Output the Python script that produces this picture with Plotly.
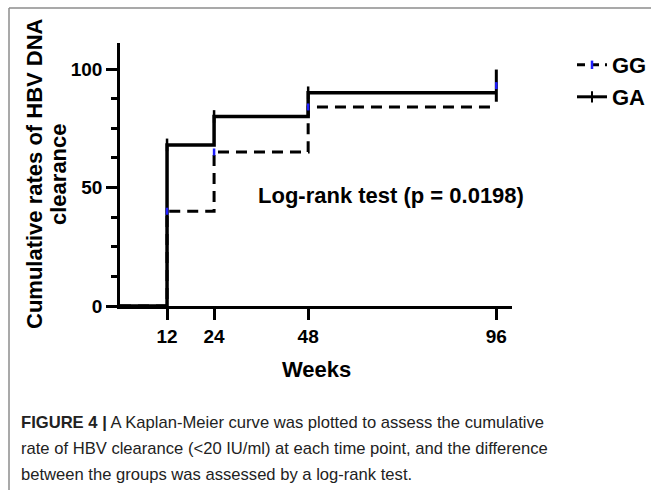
import plotly.graph_objects as go

# ---- data ----
weeks = [0, 12, 24, 48, 96]
gg_rate = [0, 40, 65, 84, 84]
ga_rate = [0, 68, 80, 90, 90]
gg_mark_weeks = [12, 24, 48]
gg_mark_rate = [40, 65, 84]
ga_mark_weeks = [12, 24, 48]
ga_mark_rate = [68, 80, 90]
ga_censor_weeks = [96]
ga_censor_rate = [93]
x_ticks = [12, 24, 48, 96]
y_ticks = [0, 50, 100]
legend_names = ["GG", "GA"]
y_title_lines = ["Cumulative rates of HBV DNA", "clearance"]
x_title = "Weeks"
test_text = "Log-rank test (p = 0.0198)"
caption_lines = [
    "<b>FIGURE 4 |</b> A Kaplan-Meier curve was plotted to assess the cumulative",
    "rate of HBV clearance (&lt;20 IU/ml) at each time point, and the difference",
    "between the groups was assessed by a log-rank test.",
]

# ---- geometry ----
W, H = 651, 490
L, R, T, B = 120, 139, 43, 184
PW = W - L - R
PH = H - T - B


def px_x(px):
    return (px - L) / PW


def px_y(py):
    return (H - B - py) / PH


FONT = "Liberation Sans, Arial, sans-serif"
BLUE = "#1f1fff"

fig = go.Figure()

fig.add_trace(go.Scatter(
    x=weeks, y=gg_rate, mode="lines", line_shape="hv",
    line=dict(color="black", width=3, dash="11px,7px"),
    name=legend_names[0], legend="legend", showlegend=False,
))
fig.add_trace(go.Scatter(
    x=weeks, y=ga_rate, mode="lines", line_shape="hv",
    line=dict(color="black", width=3.5),
    name=legend_names[1], legend="legend2", showlegend=False,
))
fig.add_trace(go.Scatter(
    x=ga_mark_weeks, y=ga_mark_rate, mode="markers",
    marker=dict(symbol="line-ns", size=9, line=dict(color="black", width=2.5)),
    showlegend=False,
))
fig.add_trace(go.Scatter(
    x=ga_censor_weeks, y=ga_censor_rate, mode="markers",
    marker=dict(symbol="line-ns", size=23, line=dict(color="black", width=3)),
    showlegend=False,
))
fig.add_trace(go.Scatter(
    x=gg_mark_weeks, y=gg_mark_rate, mode="markers",
    marker=dict(symbol="line-ns", size=5, line=dict(color=BLUE, width=2.5)),
    showlegend=False,
))
fig.add_trace(go.Scatter(
    x=ga_censor_weeks, y=ga_censor_rate, mode="markers",
    marker=dict(symbol="line-ns", size=5, line=dict(color=BLUE, width=2.5)),
    showlegend=False,
))
# legend entries
fig.add_trace(go.Scatter(
    x=[None], y=[None], mode="lines+markers", name=legend_names[0],
    line=dict(color="black", width=3, dash="8px,6px"),
    marker=dict(symbol="line-ns", size=6, line=dict(color=BLUE, width=2.5)),
    legend="legend",
))
fig.add_trace(go.Scatter(
    x=[None], y=[None], mode="lines+markers", name=legend_names[1],
    line=dict(color="black", width=3),
    marker=dict(symbol="line-ns", size=8, line=dict(color="black", width=2)),
    legend="legend2",
))

axis_common = dict(
    showline=True, linecolor="black", linewidth=2.5,
    ticks="outside", tickcolor="black", tickwidth=2.5, ticklen=11,
    showgrid=False, zeroline=False,
    tickfont=dict(family=FONT, size=19, color="black", weight="bold"),
)

fig.update_xaxes(range=[0, 100], tickvals=x_ticks, ticktext=[str(v) for v in x_ticks],
                 **axis_common)
fig.update_yaxes(range=[0, 111], tickvals=y_ticks, ticktext=[str(v) for v in y_ticks],
                 minor=dict(dtick=12.5, tick0=0, ticks="outside", ticklen=6,
                            tickwidth=2.5, tickcolor="black"),
                 **axis_common)

legend_common = dict(
    xanchor="left", yanchor="middle", bgcolor="rgba(0,0,0,0)",
    font=dict(family=FONT, size=22, color="black", weight="bold"),
)
fig.update_layout(
    width=W, height=H,
    margin=dict(l=L, r=R, t=T, b=B, autoexpand=False),
    plot_bgcolor="white", paper_bgcolor="white",
    legend=dict(x=px_x(572), y=px_y(65), **legend_common),
    legend2=dict(x=px_x(572), y=px_y(97), **legend_common),
)

title_font = dict(family=FONT, size=22, color="black", weight="bold")
annotations = []
for line, cx in zip(y_title_lines, [34, 58]):
    annotations.append(dict(
        text=line, xref="paper", yref="paper", x=px_x(cx), y=px_y(174),
        xanchor="center", yanchor="middle", textangle=-90, showarrow=False,
        font=title_font))
annotations += [
    dict(text=x_title, xref="paper", yref="paper", x=px_x(316), y=px_y(369),
         xanchor="center", yanchor="middle", showarrow=False, font=title_font),
    dict(text=test_text, xref="paper", yref="paper", x=px_x(256), y=px_y(195),
         xanchor="left", yanchor="middle", showarrow=False, font=title_font),
]
for i, line in enumerate(caption_lines):
    annotations.append(dict(
        text=line, xref="paper", yref="paper", x=px_x(19), y=px_y(422 + 26 * i),
        xanchor="left", yanchor="middle", showarrow=False,
        font=dict(family=FONT, size=16.6, color="#222222"),
    ))
fig.update_layout(annotations=annotations)

# frame lines (top and left border of figure panel)
fig.add_shape(type="line", xref="paper", yref="paper",
              x0=px_x(9), x1=px_x(W), y0=px_y(8), y1=px_y(8),
              line=dict(color="#8c8c8c", width=1.5))
fig.add_shape(type="line", xref="paper", yref="paper",
              x0=px_x(9), x1=px_x(9), y0=px_y(8), y1=px_y(H),
              line=dict(color="#8c8c8c", width=1.5))

fig.write_html("out.html")
